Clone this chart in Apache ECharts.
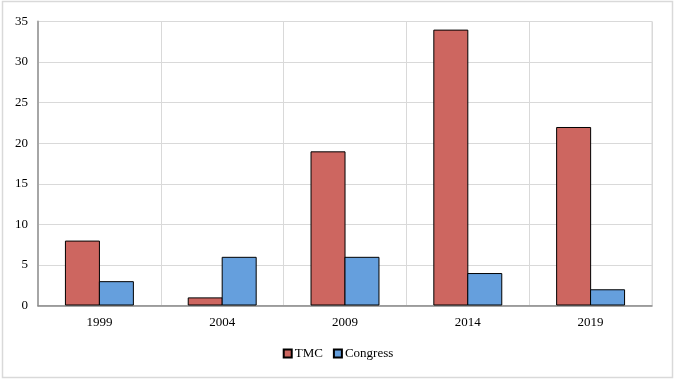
<!DOCTYPE html>
<html><head><meta charset="utf-8">
<script src="https://cdn.jsdelivr.net/npm/echarts@6/dist/echarts.min.js"></script>
<style>html,body{margin:0;padding:0;background:#fff}#c{width:676px;height:384px}</style>
</head><body><div id="c"></div>
<script>
const categories = ['1999','2004','2009','2014','2019'];
const tmc = [8, 1, 19, 34, 22];
const congress = [3, 6, 6, 4, 2];
const yTicks = {min: 0, max: 35, interval: 5};

const chart = echarts.init(document.getElementById('c'), null, {renderer: 'canvas'});
const font = 'Liberation Serif, DejaVu Serif, serif';
chart.setOption({
  animation: false,
  backgroundColor: '#fff',
  graphic: [{type: 'rect', shape: {x: 2.5, y: 1.5, width: 670, height: 376}, style: {fill: 'none', stroke: '#d9d9d9', lineWidth: 1.5}, silent: true}],
  grid: {left: 38, right: 24, top: 21.5, bottom: 78.5, containLabel: false,
    show: true, borderColor: '#d9d9d9', borderWidth: 1},
  legend: {bottom: 19, left: 'center', icon: 'rect', itemWidth: 8, itemHeight: 8, itemGap: 10,
    textStyle: {fontFamily: font, fontSize: 13, color: '#000', padding: [0,0,0,-2]},
    data: ['TMC', 'Congress']},
  xAxis: {type: 'category', data: categories,
    axisLine: {show: true, lineStyle: {color: '#868686', width: 1.5}},
    axisTick: {show: false},
    splitLine: {show: true, lineStyle: {color: '#d9d9d9'}},
    axisLabel: {fontFamily: font, fontSize: 13, color: '#000', margin: 11}},
  yAxis: {type: 'value', min: yTicks.min, max: yTicks.max, interval: yTicks.interval,
    axisLine: {show: true, lineStyle: {color: '#a6a6a6', width: 2}},
    axisTick: {show: false},
    splitLine: {lineStyle: {color: '#d9d9d9'}},
    axisLabel: {fontFamily: font, fontSize: 13, color: '#000', margin: 10}},
  series: [
    {name: 'TMC', type: 'bar', data: tmc, barWidth: 35, barGap: '-3%',
      itemStyle: {color: '#CD6660', borderColor: '#000', borderWidth: 1}},
    {name: 'Congress', type: 'bar', data: congress, barWidth: 35, barGap: '-3%',
      itemStyle: {color: '#659FDD', borderColor: '#000', borderWidth: 1}}
  ]
});
</script></body></html>
